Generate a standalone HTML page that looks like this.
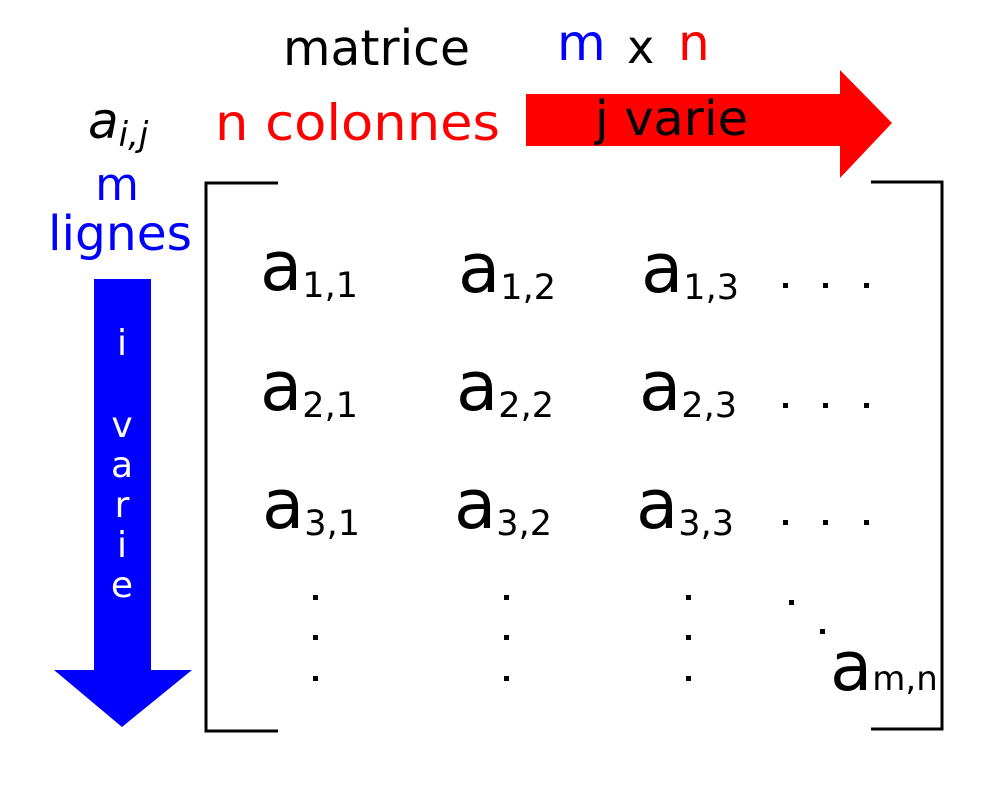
<!DOCTYPE html>
<html><head><meta charset="utf-8"><style>body{margin:0;background:#fff}svg{display:block}</style></head><body>
<svg width="1000" height="810" xmlns="http://www.w3.org/2000/svg" font-family="DejaVu Sans, Liberation Sans, sans-serif">
<text x="283" y="65" font-size="49" textLength="187" lengthAdjust="spacingAndGlyphs">matrice</text>
<text x="557" y="60" font-size="50" fill="#0000ff">m</text>
<text x="627" y="63" font-size="46">x</text>
<text x="678" y="60" font-size="50" fill="#ff0000">n</text>
<text x="88" y="138" font-size="50" font-style="italic">a<tspan font-size="34" dy="8">i,j</tspan></text>
<text x="215" y="140" font-size="50" fill="#ff0000" textLength="285" lengthAdjust="spacingAndGlyphs">n colonnes</text>
<polygon points="526,94 840,94 840,70 892,123 840,178 840,146 526,146" fill="#ff0000"/>
<text x="595" y="135" font-size="48" textLength="153" lengthAdjust="spacingAndGlyphs">j varie</text>
<text x="117" y="200" font-size="45" fill="#0000ff" text-anchor="middle">m</text>
<text x="48" y="250" font-size="48" fill="#0000ff" textLength="144" lengthAdjust="spacingAndGlyphs">lignes</text>
<polygon points="94,279 151,279 151,670 192,670 122,727 54,670 94,670" fill="#0000ff"/>
<g fill="#fff" font-size="36" text-anchor="middle">
<text x="122" y="355">i</text><text x="122" y="437">v</text><text x="122" y="477">a</text><text x="122" y="517">r</text><text x="122" y="557">i</text><text x="122" y="597">e</text>
</g>
<g stroke="#000" stroke-width="3" fill="none">
<polyline points="278,183 206,183 206,731 278,731"/>
<polyline points="871,182 942,182 942,729 871,729"/>
</g>
<g font-size="69">
<text x="260" y="290">a<tspan font-size="35" dy="7">1,1</tspan></text>
<text x="458" y="292">a<tspan font-size="35" dy="7">1,2</tspan></text>
<text x="641" y="292">a<tspan font-size="35" dy="7">1,3</tspan></text>
<text x="260" y="410">a<tspan font-size="35" dy="7">2,1</tspan></text>
<text x="456" y="410">a<tspan font-size="35" dy="7">2,2</tspan></text>
<text x="639" y="410">a<tspan font-size="35" dy="7">2,3</tspan></text>
<text x="262" y="528">a<tspan font-size="35" dy="7">3,1</tspan></text>
<text x="454" y="528">a<tspan font-size="35" dy="7">3,2</tspan></text>
<text x="636" y="528">a<tspan font-size="35" dy="7">3,3</tspan></text>
<text x="830" y="690">a<tspan font-size="34" dy="0">m,n</tspan></text>
</g>
<g fill="#000">
<rect x="783" y="283" width="5" height="5"/><rect x="823" y="283" width="5" height="5"/><rect x="864" y="283" width="5" height="5"/>
<rect x="783" y="403" width="5" height="5"/><rect x="823" y="403" width="5" height="5"/><rect x="864" y="403" width="5" height="5"/>
<rect x="783" y="520" width="5" height="5"/><rect x="823" y="520" width="5" height="5"/><rect x="864" y="520" width="5" height="5"/>
<rect x="313" y="595" width="5" height="5"/><rect x="313" y="635" width="5" height="5"/><rect x="313" y="676" width="5" height="5"/>
<rect x="504" y="595" width="5" height="5"/><rect x="504" y="635" width="5" height="5"/><rect x="504" y="676" width="5" height="5"/>
<rect x="686" y="595" width="5" height="5"/><rect x="686" y="635" width="5" height="5"/><rect x="686" y="676" width="5" height="5"/>
<rect x="789" y="600" width="5" height="5"/><rect x="820" y="629" width="5" height="5"/>
</g>
</svg>
</body></html>
